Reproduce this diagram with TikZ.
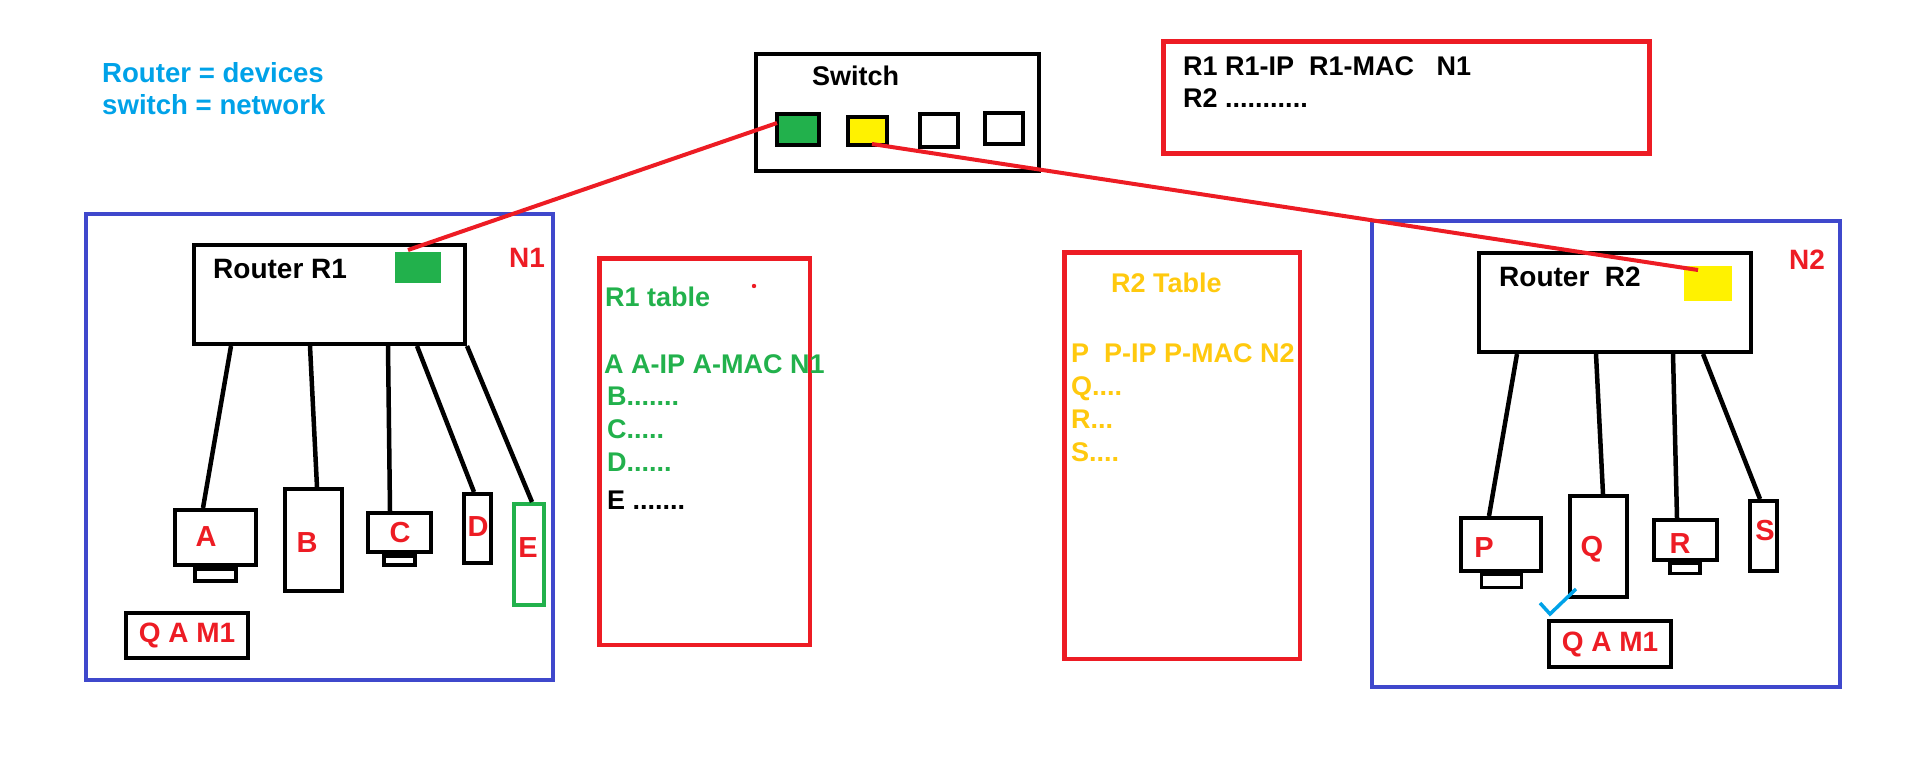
\documentclass[tikz,border=0pt]{standalone}
\usepackage{fontspec}
\setmainfont{Liberation Sans}
\definecolor{pred}{HTML}{ED1C24}
\definecolor{pblue}{HTML}{3F48CC}
\definecolor{pgreen}{HTML}{22B14C}
\definecolor{pyellow}{HTML}{FFF200}
\definecolor{pgold}{HTML}{FFC90E}
\definecolor{pcyan}{HTML}{00A2E8}
\begin{document}
\begin{tikzpicture}[x=1pt,y=-1pt,
  bx/.style={draw, line width=4pt, inner sep=0pt},
  port/.style={draw, line width=4pt, inner sep=0pt},
  sq/.style={inner sep=0pt, outer sep=0pt},
  txt/.style={inner sep=0pt, anchor=base west},
  lab/.style={inner sep=0pt, text=pred, font=\fontsize{29pt}{32pt}\selectfont\bfseries},
  rtxt/.style={txt, font=\fontsize{28pt}{32pt}\selectfont\bfseries},
  bluetxt/.style={txt, text=pcyan, font=\fontsize{27.6pt}{30pt}\selectfont\bfseries},
  tabtxt/.style={txt, font=\fontsize{27pt}{30pt}\selectfont\bfseries},
  wire/.style={line width=4.5pt},
  redwire/.style={draw=pred, line width=4pt}
]
\useasboundingbox (0,0) rectangle (1914,773);

% legend
\node[bluetxt] (leg1) at (102,83) {Router = devices};
\node[bluetxt] (leg2) at (102,115) {switch = network};

% switch
\node[bx, minimum width=283pt, minimum height=117pt] (sw) at (897.5,112.5) {};
\node[tabtxt] (swlab) at (812,86) {Switch};
\node[port, fill=pgreen, minimum width=42pt, minimum height=31pt] (p1) at (798,129.5) {};
\node[port, fill=pyellow, minimum width=39pt, minimum height=28pt] (p2) at (867.5,131) {};
\node[port, minimum width=38pt, minimum height=33pt] (p3) at (939,130.5) {};
\node[port, minimum width=38pt, minimum height=31pt] (p4) at (1004,128.5) {};

% top table
\node[bx, draw=pred, line width=5pt, minimum width=486pt, minimum height=112pt] (tt) at (1406.5,97.5) {};
\node[tabtxt] (tt1) at (1183,76) {R1 R1-IP\ \ R1-MAC\ \ \ N1};
\node[tabtxt] (tt2) at (1183,108) {R2 ...........};

% network N1
\node[bx, draw=pblue, minimum width=467pt, minimum height=466pt] (n1) at (319.5,447) {};
\node[bx, minimum width=271pt, minimum height=99pt] (r1) at (329.5,294.5) {};
\node[sq, fill=pgreen, minimum width=46pt, minimum height=31pt] (g1) at (418,267.5) {};
\node[rtxt] (r1lab) at (213,278) {Router R1};
\node[rtxt, text=pred] (n1lab) at (509,267) {N1};

\node[bx, line width=3.5pt, minimum width=41pt, minimum height=12pt] (as) at (215.5,575) {};
\node[bx, minimum width=81pt, minimum height=55pt] (a) at (215.5,537.5) {};
\node[bx, minimum width=57pt, minimum height=102pt] (b) at (313.5,540) {};
\node[bx, line width=3.5pt, minimum width=31pt, minimum height=9pt] (cs) at (399.5,560.5) {};
\node[bx, minimum width=63pt, minimum height=39pt] (c) at (399.5,532.5) {};
\node[bx, minimum width=27pt, minimum height=69pt] (d) at (477.5,528.5) {};
\node[bx, draw=pgreen, minimum width=30pt, minimum height=101pt] (e) at (529,554.5) {};
\node[lab] (alab) at (206,537) {A};
\node[lab] (blab) at (307,543) {B};
\node[lab] (clab) at (400,533) {C};
\node[lab] (dlab) at (478,527) {D};
\node[lab] (elab) at (528,548) {E};
\node[bx, minimum width=122pt, minimum height=45pt, text=pred,
  font=\fontsize{28pt}{32pt}\selectfont\bfseries] (qam1) at (187,635.5) {Q A M1};

\draw[wire] ([xshift=39pt]r1.south west) -- ([xshift=-12.5pt]a.north);
\draw[wire] ([xshift=118pt]r1.south west) -- ([xshift=3.5pt]b.north);
\draw[wire] ([xshift=196pt]r1.south west) -- ([xshift=-9.5pt]c.north);
\draw[wire] ([xshift=225pt]r1.south west) -- ([xshift=-3.5pt]d.north);
\draw[wire] (r1.south east) -- ([xshift=3pt]e.north);

% R1 table
\node[bx, draw=pred, line width=4.5pt, minimum width=210.5pt, minimum height=386.5pt] (t1) at (704.5,451.5) {};
\node[tabtxt, text=pgreen] (t1h) at (605,306) {R1 table};
\node[tabtxt, text=pgreen] (t1a) at (604,373) {A A-IP A-MAC N1};
\node[tabtxt, text=pgreen] (t1b) at (607,405) {B.......};
\node[tabtxt, text=pgreen] (t1c) at (607,438) {C.....};
\node[tabtxt, text=pgreen] (t1d) at (607,471) {D......};
\node[tabtxt] (t1e) at (607,509) {E .......};
\fill[pred] (754,286) circle[radius=2.2pt];

% R2 table
\node[bx, draw=pred, line width=4.5pt, minimum width=235.5pt, minimum height=406.5pt] (t2) at (1182,455.5) {};
\node[tabtxt, text=pgold] (t2h) at (1111,292) {R2 Table};
\node[tabtxt, text=pgold] (t2p) at (1071,362) {P\ \ P-IP P-MAC N2};
\node[tabtxt, text=pgold] (t2q) at (1071,395) {Q....};
\node[tabtxt, text=pgold] (t2r) at (1071,428) {R...};
\node[tabtxt, text=pgold] (t2s) at (1071,461) {S....};

% network N2
\node[bx, draw=pblue, minimum width=468pt, minimum height=466pt] (n2) at (1606,454) {};
\node[bx, minimum width=272pt, minimum height=99pt] (r2) at (1615,302.5) {};
\node[sq, fill=pyellow, minimum width=48pt, minimum height=35pt] (y2) at (1708,283.5) {};
\node[rtxt] (r2lab) at (1499,286) {Router\ \ R2};
\node[rtxt, text=pred] (n2lab) at (1789,269) {N2};

\node[bx, line width=3.5pt, minimum width=40pt, minimum height=13pt] (ps) at (1501.5,581) {};
\node[bx, minimum width=80pt, minimum height=53pt] (p) at (1501,544.5) {};
\node[bx, minimum width=57pt, minimum height=101pt] (q) at (1598.5,546.5) {};
\node[bx, line width=3.5pt, minimum width=30pt, minimum height=10pt] (rs) at (1685,568.5) {};
\node[bx, minimum width=63pt, minimum height=40pt] (rr) at (1685.5,540) {};
\node[bx, minimum width=27pt, minimum height=70pt] (s) at (1763.5,536) {};
\node[lab] (plab) at (1484,548) {P};
\node[lab] (qlab) at (1592,549) {Q};
\node[lab] (rlab) at (1680,544) {R};
\node[lab] (slab) at (1765,531) {S};
\node[bx, minimum width=122pt, minimum height=46pt, text=pred,
  font=\fontsize{28pt}{32pt}\selectfont\bfseries] (qam2) at (1610,644) {Q A M1};

\draw[wire] ([xshift=40pt]r2.south west) -- ([xshift=-12pt]p.north);
\draw[wire] ([xshift=119pt]r2.south west) -- ([xshift=4.5pt]q.north);
\draw[wire] ([xshift=196pt]r2.south west) -- ([xshift=-8.5pt]rr.north);
\draw[wire] ([xshift=226pt]r2.south west) -- ([xshift=-3.5pt]s.north);

% check mark
\draw[pcyan, line width=3.5pt] (1540,603) -- (1550,614) -- (1576,589);

% red links
\draw[redwire] ([xshift=2pt,yshift=6.5pt]p1.west) -- ([xshift=-10pt,yshift=2pt]g1.north);
\draw[redwire] ([xshift=4.5pt,yshift=3pt]p2.south) -- ([xshift=-10pt,yshift=-4pt]y2.north);
\end{tikzpicture}
\end{document}
